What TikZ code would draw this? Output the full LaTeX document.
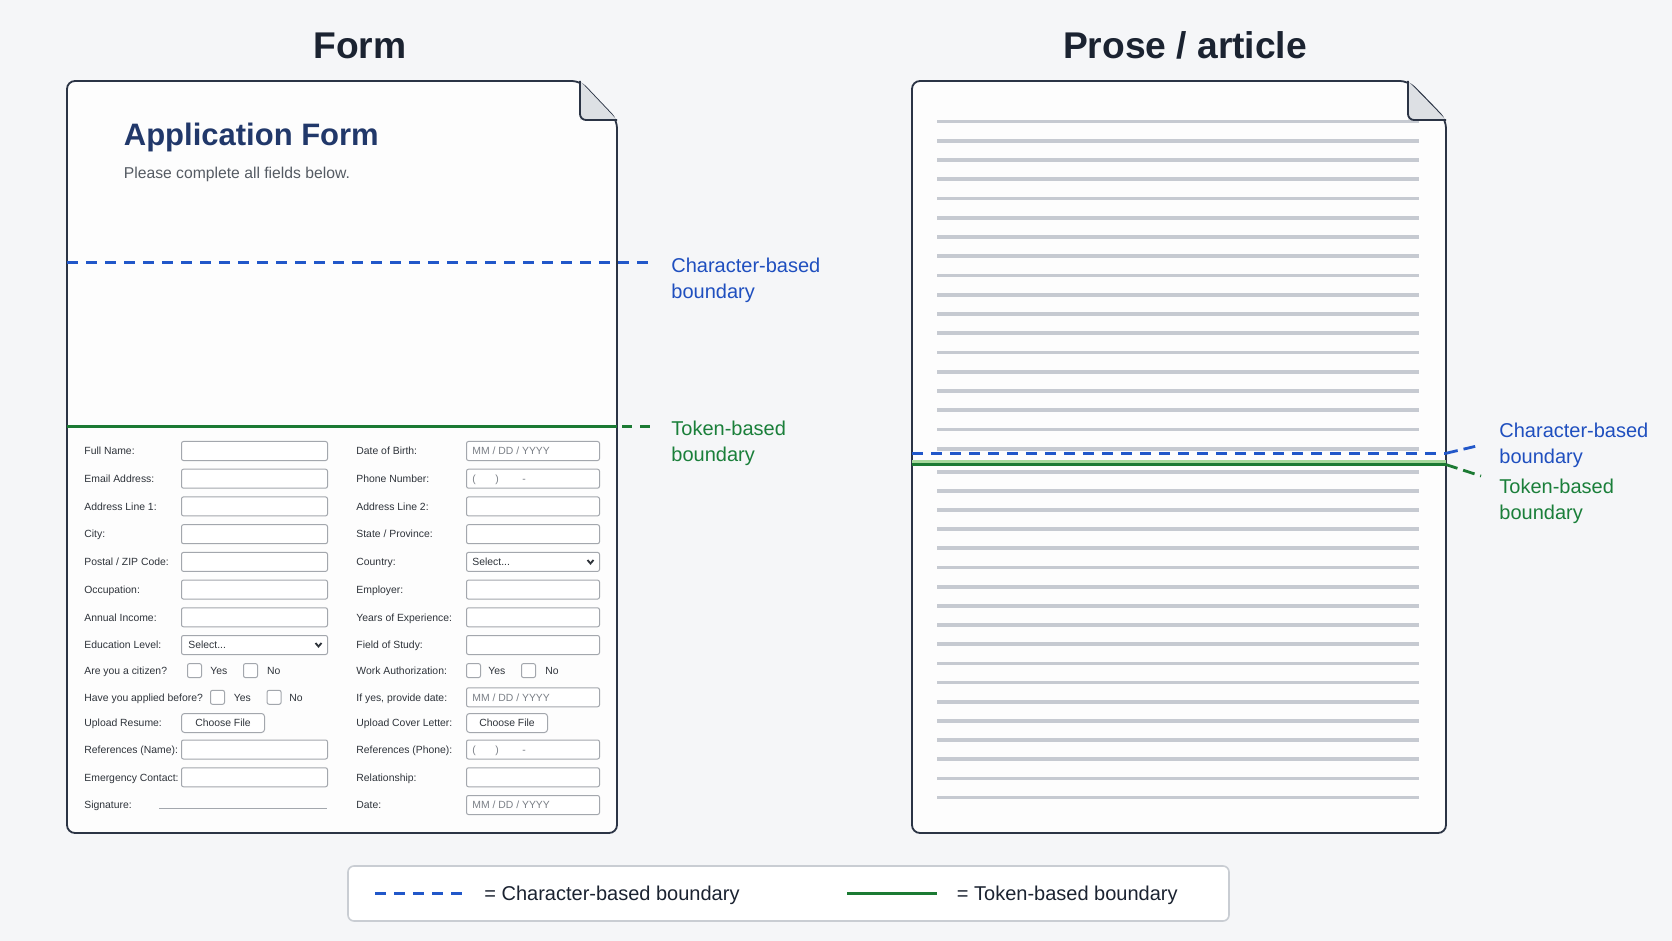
\documentclass[tikz,border=0pt]{standalone}
\usepackage{fontspec}
\setmainfont{Liberation Sans}
\usetikzlibrary{calc}
\definecolor{bg}{HTML}{F5F6F8}
\definecolor{docfill}{HTML}{FDFDFD}
\definecolor{docline}{HTML}{2B3445}
\definecolor{navy}{HTML}{21386A}
\definecolor{headc}{HTML}{1B2331}
\definecolor{subc}{HTML}{555B63}
\definecolor{blueb}{HTML}{2157C9}
\definecolor{bluet}{HTML}{1F4FBF}
\definecolor{greenb}{HTML}{1B7A33}
\definecolor{greent}{HTML}{1A7F3A}
\definecolor{lgreen}{HTML}{A6D89C}
\definecolor{proseln}{HTML}{C6CAD1}
\definecolor{boxc}{HTML}{A3A7AD}
\definecolor{labc}{HTML}{2E333A}
\definecolor{phc}{HTML}{7A7F86}
\definecolor{foldc}{HTML}{DDE0E4}
\definecolor{legc}{HTML}{C9CDD3}
\begin{document}
\begin{tikzpicture}[x=0.5pt,y=-0.5pt,
  head/.style={anchor=base, inner sep=0, font=\fontsize{18.6}{22}\selectfont\bfseries, text=headc},
  doc/.style={draw=docline, line width=0.9pt, fill=docfill, rounded corners=4pt},
  flap/.style={draw=docline, line width=0.9pt, rounded corners=3pt},
  flab/.style={anchor=base west, inner sep=0, font=\fontsize{5.2}{6}\selectfont, text=labc},
  ph/.style={anchor=base west, inner sep=0, font=\fontsize{5.2}{6}\selectfont, text=phc},
  linbox/.style={draw=boxc, line width=0.5pt, fill=white, rounded corners=1pt, minimum width=73pt, minimum height=9.5pt, inner sep=0, anchor=west},
  rinbox/.style={linbox, minimum width=66.5pt},
  chk/.style={draw=boxc, line width=0.5pt, fill=white, rounded corners=1pt, minimum width=7pt, minimum height=7pt, inner sep=0, anchor=west},
  btn/.style={draw=boxc, line width=0.5pt, fill=white, rounded corners=1.5pt, minimum height=9.5pt, inner sep=0, font=\fontsize{5.2}{6}\selectfont, text=labc, anchor=west},
  chev/.style={draw=labc, line width=0.9pt},
  bluedash/.style={draw=blueb, line width=1.6pt, dash pattern=on 5.5pt off 4pt},
  greensolid/.style={draw=greenb, line width=1.5pt},
  greendash/.style={draw=greenb, line width=1.5pt, dash pattern=on 5pt off 4pt},
  sidelab/.style={anchor=north west, inner sep=0, align=left, font=\fontsize{10}{13}\selectfont},
  pline/.style={draw=proseln, line width=1.9pt},
  legtxt/.style={anchor=base west, inner sep=0, font=\fontsize{10}{12}\selectfont, text=headc}
]
\fill[bg] (0,0) rectangle (1672,941);
\useasboundingbox (0,0) rectangle (1672,941);

% headers
\node[head] (hform) at (360,59) {Form};
\node[head] (hprose) at (1185,59) {Prose / article};

% ---------- Form document ----------
\draw[doc] (598.5,100.5) -- (617,120) -- (617,833) -- (67,833) -- (67,81) -- (580,81) -- cycle;
\fill[foldc] (580,81) -- (580,120) -- (617,120) -- cycle;
\draw[flap] (580,81) -- (580,120) -- (617,120);

\node[anchor=base west, inner sep=0, font=\fontsize{15.5}{18}\selectfont\bfseries, text=navy] (ftitle) at (123.5,146) {Application Form};
\node[anchor=base west, inner sep=0, font=\fontsize{7.85}{9}\selectfont, text=subc] (fsub) at (123.5,178.5) {Please complete all fields below.};

\begin{scope}[yshift=-0.5pt]
% left labels
\foreach \nm/\y/\txt in {a/450/{Full Name:}, b/477.7/{Email Address:}, c/505.4/{Address Line 1:}, d/533.2/{City:}, e/560.9/{Postal / ZIP Code:}, f/588.6/{Occupation:}, g/616.3/{Annual Income:}, h/644/{Education Level:}, i/669.6/{Are you a citizen?}, j/696.3/{Have you applied before?}, k/722/{Upload Resume:}, l/748.5/{References (Name):}, m/776.3/{Emergency Contact:}, n/804/{Signature:}}
  \node[flab] (LL\nm) at (84,\y+3.8) {\txt};
% left inputs
\foreach \nm/\y in {a/450, b/477.7, c/505.4, d/533.2, e/560.9, f/588.6, g/616.3, h/644, l/748.5, m/776.3}
  \node[linbox] (LI\nm) at (181,\y) {};
\node[ph, text=labc] (LSh) at (188,647.8) {Select...};
\draw[chev] (315.5,642) -- (318.5,645.5) -- (321.5,642);
% citizen
\node[chk] (LCi1) at (187,669.6) {};
\node[flab] (LYi) at (210,673.4) {Yes};
\node[chk] (LCi2) at (243,669.6) {};
\node[flab] (LNi) at (266.6,673.4) {No};
% applied
\node[chk] (LCj1) at (210,696.3) {};
\node[flab] (LYj) at (233.5,700.1) {Yes};
\node[chk] (LCj2) at (266.6,696.3) {};
\node[flab] (LNj) at (289,700.1) {No};
% upload
\node[btn, minimum width=41.5pt] (LBk) at (181,722) {Choose File};
% signature
\coordinate (sigA) at (159,807);
\coordinate (sigB) at (327,807);
\draw[boxc, line width=0.5pt] (sigA) -- (sigB);

% right labels
\foreach \nm/\y/\txt in {a/450/{Date of Birth:}, b/477.7/{Phone Number:}, c/505.4/{Address Line 2:}, d/533.2/{State / Province:}, e/560.9/{Country:}, f/588.6/{Employer:}, g/616.3/{Years of Experience:}, h/644/{Field of Study:}, i/669.6/{Work Authorization:}, j/696.3/{If yes, provide date:}, k/722/{Upload Cover Letter:}, l/748.5/{References (Phone):}, m/776.3/{Relationship:}, n/804/{Date:}}
  \node[flab] (RL\nm) at (356,\y+3.8) {\txt};
\foreach \nm/\y in {a/450, b/477.7, c/505.4, d/533.2, e/560.9, f/588.6, g/616.3, h/644, j/696.3, l/748.5, m/776.3, n/804}
  \node[rinbox] (RI\nm) at (466,\y) {};
\foreach \nm/\y in {a/450, j/696.3, n/804}
  \node[ph] (RP\nm) at (472,\y+3.8) {MM / DD / YYYY};
\foreach \nm/\y in {b/477.7, l/748.5}{
  \node[ph] (RPo\nm) at (472,\y+3.8) {(};
  \node[ph] (RPc\nm) at (495,\y+3.8) {)};
  \node[ph] (RPd\nm) at (522,\y+3.8) {-};
}
\node[ph, text=labc] (RSe) at (472,564.7) {Select...};
\draw[chev] (587.5,559) -- (590.5,562.5) -- (593.5,559);
\node[chk] (RCi1) at (466,669.6) {};
\node[flab] (RYi) at (488,673.4) {Yes};
\node[chk] (RCi2) at (521,669.6) {};
\node[flab] (RNi) at (545,673.4) {No};
\node[btn, minimum width=40.5pt] (RBk) at (466,722) {Choose File};
\end{scope}

% form boundaries
\coordinate (fcb0) at (67,262.5);
\coordinate (fcb1) at (650,262.5);
\draw[bluedash] (fcb0) -- (fcb1);
\coordinate (ftb0) at (67,427);
\coordinate (ftb1) at (617,427);
\coordinate (ftb2) at (622,427);
\coordinate (ftb3) at (650,427);
\draw[greensolid] (ftb0) -- (ftb1);
\draw[greendash] (ftb2) -- (ftb3);
\node[sidelab, text=bluet] (fcl) at (671,257.5) {Character-based\\boundary};
\node[sidelab, text=greent] (ftl) at (671,420.5) {Token-based\\boundary};

% ---------- Prose document ----------
\draw[doc] (1427.5,100.5) -- (1446,120) -- (1446,833) -- (912,833) -- (912,81) -- (1408,81) -- cycle;
\foreach \i in {0,...,17}
  \draw[pline] (937,121.6+19.25*\i) -- (1419,121.6+19.25*\i);
\foreach \i in {0,...,17}
  \draw[pline] (937,471.7+19.17*\i) -- (1419,471.7+19.17*\i);
\fill[foldc] (1408,81) -- (1408,120) -- (1446,120) -- cycle;
\draw[flap] (1408,81) -- (1408,120) -- (1446,120);

\coordinate (pcb0) at (912,453.3);
\coordinate (pcb1) at (1446,453.3);
\coordinate (pcb2) at (1481,445);
\draw[bluedash, line width=1.4pt] (pcb0) -- (pcb1);
\draw[draw=blueb, line width=1.4pt, dash pattern=on 6pt off 3pt] (pcb1) -- (pcb2);
\coordinate (ptb0) at (912,461.3);
\coordinate (ptb1) at (1446,461.3);
\draw[draw=lgreen, line width=1.8pt] (ptb0) -- (ptb1);
\coordinate (ptg0) at (912,464.6);
\coordinate (ptg1) at (1446,464.6);
\coordinate (ptg2) at (1481,476);
\draw[greensolid] (ptg0) -- (ptg1);
\draw[draw=greenb, line width=1.4pt, dash pattern=on 6pt off 3pt] (ptg1) -- (ptg2);
\node[sidelab, text=bluet] (pcl) at (1499,422.5) {Character-based\\boundary};
\node[sidelab, text=greent] (ptl) at (1499,478.5) {Token-based\\boundary};

% ---------- Legend ----------
\node[draw=legc, line width=0.8pt, fill=white, rounded corners=3pt, minimum width=440.5pt, minimum height=27.5pt, inner sep=0] (leg) at (788.5,893.5) {};
\coordinate (lb0) at (375,893.5);
\coordinate (lb1) at (466,893.5);
\draw[bluedash] (lb0) -- (lb1);
\node[legtxt] (lbt) at (484,900.5) {= Character-based boundary};
\coordinate (lg0) at (847,893.5);
\coordinate (lg1) at (937,893.5);
\draw[greensolid, line width=1.6pt] (lg0) -- (lg1);
\node[legtxt] (lgt) at (956.5,900.5) {= Token-based boundary};
\end{tikzpicture}
\end{document}
